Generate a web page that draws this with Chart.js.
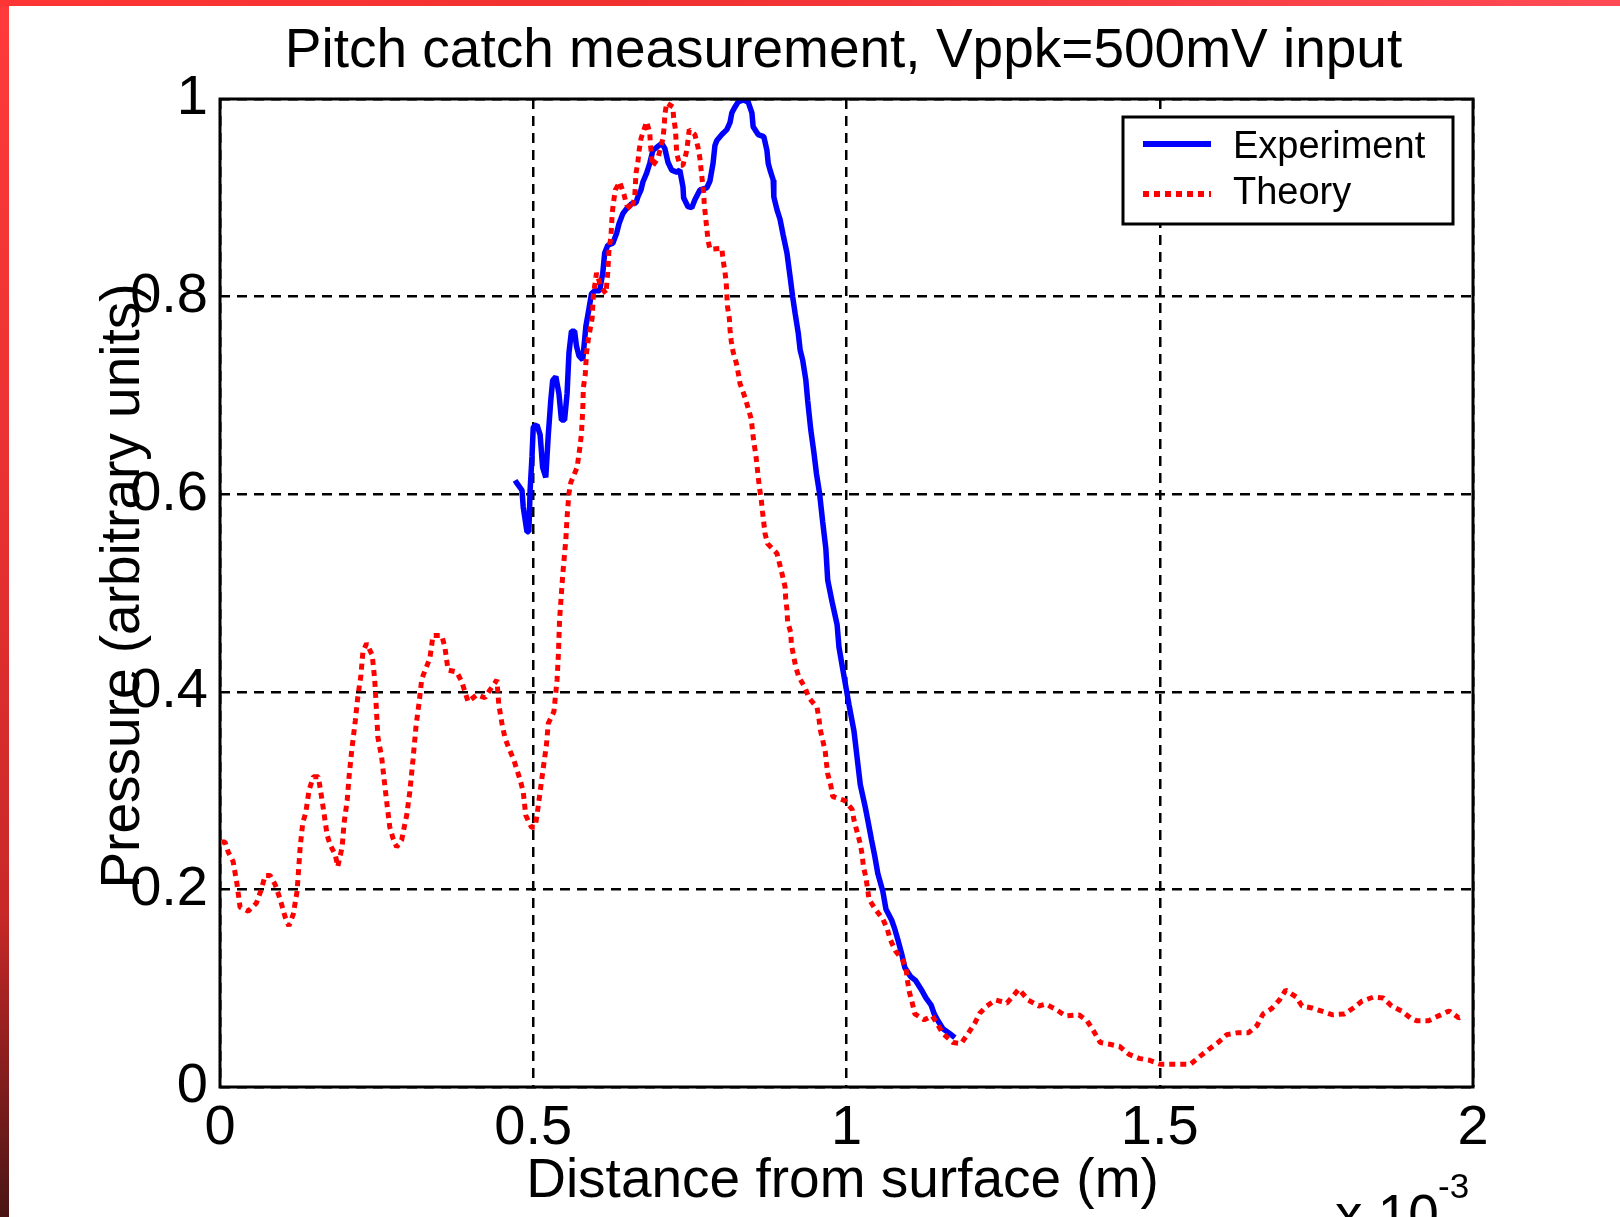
<!DOCTYPE html>
<html>
<head>
<meta charset="utf-8">
<script src="https://cdn.jsdelivr.net/npm/chart.js@4.4.1/dist/chart.umd.min.js"></script>
<style>
  body { margin: 0; background: #fff; }
  #wrap { position: relative; width: 1620px; height: 1217px; overflow: hidden; background: #fff; }
  #edgeLeft { position: absolute; left: 0; top: 0; width: 9px; height: 1217px;
    background: linear-gradient(#ff3a3a, #e63030 45%, #c82828 75%, #4a1515); }
  #edgeTop { position: absolute; left: 0; top: 0; width: 1620px; height: 6px;
    background: linear-gradient(90deg, #ff3535, #f03030 40%, #ff4a55); }
  canvas { position: absolute; left: 0; top: 0; }
</style>
</head>
<body>
<div id="wrap">
  <canvas id="myChart" width="1620" height="1217"></canvas>
  <div id="edgeLeft"></div>
  <div id="edgeTop"></div>
</div>
<script>
// x in units of 1e-3 m
const expX = [0.471, 0.473, 0.482, 0.484, 0.49, 0.493, 0.495, 0.498, 0.5, 0.506, 0.511, 0.515, 0.52, 0.524, 0.528,
  0.531, 0.536, 0.541, 0.545, 0.55, 0.554, 0.557, 0.561, 0.566, 0.569, 0.573, 0.579, 0.584, 0.589, 0.593, 0.598,
  0.606, 0.611, 0.614, 0.619, 0.627, 0.633, 0.637, 0.643, 0.649, 0.657, 0.664, 0.667, 0.672, 0.675, 0.681, 0.686,
  0.691, 0.697, 0.705, 0.71, 0.715, 0.721, 0.729, 0.734, 0.739, 0.74, 0.747, 0.753, 0.758, 0.766, 0.777, 0.782,
  0.787, 0.79, 0.793, 0.801, 0.809, 0.814, 0.817, 0.822, 0.827, 0.835, 0.843, 0.849, 0.851, 0.859, 0.868, 0.873,
  0.875, 0.878, 0.883, 0.884, 0.889, 0.894, 0.899, 0.905, 0.91, 0.914, 0.918, 0.923, 0.926, 0.93, 0.935, 0.938,
  0.943, 0.948, 0.952, 0.957, 0.962, 0.967, 0.97, 0.977, 0.985, 0.988, 0.994, 0.999, 1.004, 1.012, 1.017, 1.022,
  1.03, 1.034, 1.04, 1.045, 1.05, 1.058, 1.063, 1.072, 1.077, 1.082, 1.088, 1.093, 1.102, 1.11, 1.119, 1.127,
  1.135, 1.14, 1.146, 1.154, 1.165, 1.173];
const expY = [0.614, 0.612, 0.604, 0.587, 0.562, 0.562, 0.604, 0.638, 0.668, 0.67, 0.66, 0.627, 0.617, 0.66, 0.695,
  0.715, 0.719, 0.702, 0.675, 0.675, 0.702, 0.743, 0.765, 0.765, 0.75, 0.74, 0.736, 0.77, 0.788, 0.803, 0.806,
  0.806, 0.824, 0.844, 0.852, 0.854, 0.864, 0.874, 0.884, 0.889, 0.894, 0.895, 0.901, 0.908, 0.916, 0.925, 0.935,
  0.948, 0.951, 0.955, 0.95, 0.936, 0.928, 0.926, 0.928, 0.911, 0.9, 0.891, 0.89, 0.898, 0.908, 0.91, 0.917,
  0.935, 0.953, 0.958, 0.964, 0.969, 0.976, 0.986, 0.992, 0.997, 0.999, 0.997, 0.986, 0.972, 0.964, 0.962, 0.948,
  0.935, 0.928, 0.918, 0.901, 0.888, 0.878, 0.862, 0.844, 0.82, 0.8, 0.783, 0.763, 0.746, 0.736, 0.716, 0.695,
  0.665, 0.642, 0.621, 0.601, 0.572, 0.545, 0.513, 0.491, 0.468, 0.445, 0.423, 0.405, 0.387, 0.36, 0.333, 0.306,
  0.283, 0.27, 0.25, 0.234, 0.216, 0.198, 0.18, 0.169, 0.16, 0.149, 0.135, 0.121, 0.112, 0.108, 0.099, 0.09,
  0.083, 0.074, 0.067, 0.059, 0.054, 0.05];

const theoryX = [0.003, 0.008, 0.013, 0.021, 0.027, 0.032, 0.045, 0.058, 0.066, 0.072, 0.08, 0.088, 0.096, 0.104,
  0.11, 0.117, 0.123, 0.128, 0.132, 0.137, 0.142, 0.149, 0.157, 0.163, 0.166, 0.171, 0.176, 0.184, 0.188, 0.195,
  0.198, 0.203, 0.206, 0.21, 0.216, 0.22, 0.225, 0.228, 0.234, 0.243, 0.247, 0.25, 0.252, 0.258, 0.262, 0.266,
  0.271, 0.276, 0.282, 0.29, 0.294, 0.298, 0.303, 0.308, 0.313, 0.318, 0.322, 0.335, 0.34, 0.354, 0.359, 0.364,
  0.378, 0.386, 0.396, 0.41, 0.423, 0.431, 0.442, 0.445, 0.45, 0.455, 0.461, 0.469, 0.479, 0.484, 0.488, 0.497,
  0.503, 0.506, 0.511, 0.516, 0.521, 0.524, 0.533, 0.538, 0.54, 0.542, 0.547, 0.552, 0.554, 0.557, 0.56, 0.57,
  0.575, 0.577, 0.579, 0.58, 0.583, 0.585, 0.588, 0.594, 0.596, 0.601, 0.608, 0.616, 0.619, 0.621, 0.624, 0.626,
  0.628, 0.631, 0.638, 0.645, 0.649, 0.657, 0.662, 0.664, 0.667, 0.669, 0.672, 0.681, 0.686, 0.687, 0.689, 0.69,
  0.699, 0.707, 0.709, 0.71, 0.713, 0.723, 0.724, 0.727, 0.728, 0.729, 0.734, 0.739, 0.744, 0.746, 0.749, 0.758,
  0.763, 0.766, 0.768, 0.77, 0.772, 0.773, 0.775, 0.777, 0.779, 0.782, 0.801, 0.803, 0.806, 0.808, 0.809, 0.81,
  0.813, 0.814, 0.816, 0.819, 0.824, 0.828, 0.83, 0.838, 0.843, 0.848, 0.85, 0.852, 0.855, 0.857, 0.859, 0.861,
  0.864, 0.866, 0.868, 0.87, 0.874, 0.889, 0.893, 0.898, 0.902, 0.903, 0.905, 0.906, 0.911, 0.912, 0.916, 0.919,
  0.924, 0.934, 0.94, 0.953, 0.956, 0.958, 0.962, 0.966, 0.968, 0.97, 0.975, 0.978, 0.997, 1.009, 1.012, 1.017,
  1.022, 1.025, 1.027, 1.031, 1.036, 1.046, 1.058, 1.065, 1.07, 1.078, 1.09, 1.095, 1.097, 1.1, 1.105, 1.109,
  1.124, 1.137, 1.154, 1.17, 1.183, 1.194, 1.205, 1.213, 1.224, 1.238, 1.256, 1.267, 1.275, 1.29, 1.307, 1.318,
  1.333, 1.35, 1.371, 1.384, 1.395, 1.405, 1.422, 1.436, 1.451, 1.467, 1.484, 1.501, 1.515, 1.532, 1.549, 1.564,
  1.578, 1.593, 1.607, 1.625, 1.642, 1.655, 1.665, 1.678, 1.691, 1.701, 1.718, 1.727, 1.743, 1.762, 1.776, 1.795,
  1.809, 1.823, 1.841, 1.857, 1.87, 1.886, 1.9, 1.91, 1.929, 1.945, 1.962, 1.977, 1.985];
const theoryY = [0.248, 0.248, 0.238, 0.228, 0.206, 0.182, 0.178, 0.186, 0.2, 0.214, 0.214, 0.205, 0.19, 0.172,
  0.163, 0.175, 0.198, 0.243, 0.267, 0.278, 0.3, 0.314, 0.314, 0.29, 0.277, 0.255, 0.245, 0.235, 0.223, 0.243,
  0.267, 0.29, 0.314, 0.339, 0.371, 0.395, 0.417, 0.44, 0.449, 0.437, 0.412, 0.378, 0.354, 0.334, 0.311, 0.289,
  0.263, 0.252, 0.243, 0.25, 0.263, 0.275, 0.299, 0.331, 0.366, 0.39, 0.413, 0.434, 0.457, 0.457, 0.445, 0.422,
  0.42, 0.41, 0.39, 0.397, 0.394, 0.402, 0.412, 0.387, 0.368, 0.353, 0.343, 0.331, 0.311, 0.299, 0.275, 0.263,
  0.263, 0.275, 0.299, 0.323, 0.346, 0.368, 0.38, 0.412, 0.436, 0.473, 0.518, 0.554, 0.577, 0.601, 0.612, 0.627,
  0.65, 0.662, 0.685, 0.708, 0.721, 0.743, 0.757, 0.778, 0.802, 0.824, 0.81, 0.803, 0.825, 0.849, 0.86, 0.884,
  0.895, 0.908, 0.916, 0.903, 0.893, 0.888, 0.901, 0.925, 0.936, 0.948, 0.96, 0.977, 0.966, 0.954, 0.942, 0.932,
  0.94, 0.96, 0.972, 0.984, 0.996, 0.992, 0.981, 0.969, 0.957, 0.945, 0.933, 0.933, 0.945, 0.953, 0.969, 0.964,
  0.951, 0.94, 0.928, 0.916, 0.905, 0.893, 0.881, 0.869, 0.857, 0.848, 0.849, 0.837, 0.825, 0.814, 0.802, 0.79,
  0.778, 0.767, 0.755, 0.744, 0.733, 0.72, 0.712, 0.698, 0.687, 0.676, 0.664, 0.653, 0.641, 0.63, 0.618, 0.607,
  0.594, 0.582, 0.571, 0.56, 0.55, 0.54, 0.53, 0.517, 0.506, 0.494, 0.483, 0.471, 0.46, 0.448, 0.435, 0.425,
  0.415, 0.404, 0.394, 0.384, 0.373, 0.362, 0.351, 0.34, 0.328, 0.317, 0.305, 0.294, 0.29, 0.281, 0.27, 0.258,
  0.246, 0.235, 0.223, 0.212, 0.19, 0.18, 0.17, 0.16, 0.149, 0.138, 0.128, 0.12, 0.109, 0.097, 0.085, 0.074,
  0.068, 0.072, 0.054, 0.045, 0.044, 0.054, 0.065, 0.075, 0.082, 0.088, 0.085, 0.093, 0.099, 0.088, 0.082, 0.084,
  0.079, 0.072, 0.073, 0.067, 0.056, 0.045, 0.043, 0.041, 0.033, 0.029, 0.027, 0.023, 0.023, 0.023, 0.023, 0.031,
  0.038, 0.045, 0.053, 0.055, 0.055, 0.062, 0.074, 0.079, 0.088, 0.098, 0.091, 0.082, 0.08, 0.076, 0.073, 0.074,
  0.08, 0.087, 0.091, 0.09, 0.082, 0.077, 0.07, 0.067, 0.067, 0.072, 0.077, 0.07, 0.072];

const xTicks = [0, 0.5, 1, 1.5, 2];
const yTicks = [0, 0.2, 0.4, 0.6, 0.8, 1];

const titleText = "Pitch catch measurement, Vppk=500mV input";
const xTitle = "Distance from surface (m)";
const yTitle = "Pressure (arbitrary units)";

const FONT = "'Liberation Sans', Arial, sans-serif";

const toPoints = (xs, ys) => xs.map((x, i) => ({ x: x, y: ys[i] }));
const plainLabel = (v) => String(v);

// matlab style frame, titles and legend
const matlabBits = {
  id: "matlabBits",
  afterDatasetsDraw(chart) {
    const { ctx, chartArea: a } = chart;
    ctx.save();
    ctx.strokeStyle = "#000";
    ctx.lineWidth = 3;
    ctx.strokeRect(a.left, a.top, a.right - a.left, a.bottom - a.top);
    ctx.restore();
  },
  afterDraw(chart) {
    const { ctx, chartArea: a } = chart;
    const cx = (a.left + a.right) / 2;
    ctx.save();
    ctx.fillStyle = "#000";
    ctx.textBaseline = "alphabetic";

    ctx.font = "55px " + FONT;
    ctx.textAlign = "center";
    ctx.fillText(titleText, cx - 3, 67);
    ctx.fillText(xTitle, cx - 4, 1197);

    ctx.save();
    ctx.translate(139, 586);
    ctx.rotate(-Math.PI / 2);
    ctx.fillText(yTitle, 0, 0);
    ctx.restore();

    // exponent note, bottom cut off like the original
    ctx.textAlign = "left";
    ctx.fillText("x 10", 1335, 1233);
    ctx.font = "35px " + FONT;
    ctx.fillText("-3", 1438, 1198);

    // legend
    const box = { l: 1123, t: 117, r: 1453, b: 224 };
    ctx.fillStyle = "#fff";
    ctx.fillRect(box.l, box.t, box.r - box.l, box.b - box.t);
    ctx.strokeStyle = "#000";
    ctx.lineWidth = 3;
    ctx.strokeRect(box.l, box.t, box.r - box.l, box.b - box.t);

    const rows = [
      { ds: chart.data.datasets[1], y: 144, base: 158 },
      { ds: chart.data.datasets[0], y: 194, base: 204 }
    ];
    rows.forEach((row) => {
      ctx.beginPath();
      ctx.strokeStyle = row.ds.borderColor;
      ctx.lineWidth = 6;
      ctx.lineCap = "butt";
      ctx.setLineDash(row.ds.borderDash || []);
      ctx.moveTo(1143, row.y);
      ctx.lineTo(1211, row.y);
      ctx.stroke();
      ctx.setLineDash([]);
      ctx.fillStyle = "#000";
      ctx.font = "38px " + FONT;
      ctx.fillText(row.ds.label, 1233, row.base);
    });
    ctx.restore();
  }
};

const myChart = document.getElementById("myChart");

new Chart(myChart, {
  type: "line",
  data: {
    datasets: [
      {
        label: "Theory",
        data: toPoints(theoryX, theoryY),
        borderColor: "#ff0000",
        borderWidth: 5,
        borderDash: [6, 5],
        borderCapStyle: "butt",
        borderJoinStyle: "bevel",
        pointRadius: 0,
        tension: 0,
        order: 0
      },
      {
        label: "Experiment",
        data: toPoints(expX, expY),
        borderColor: "#0000ff",
        borderWidth: 5.5,
        borderJoinStyle: "bevel",
        pointRadius: 0,
        tension: 0,
        order: 1
      }
    ]
  },
  options: {
    responsive: false,
    devicePixelRatio: 1,
    animation: false,
    events: [],
    layout: { padding: { top: 99, right: 147, left: 0, bottom: 0 } },
    plugins: {
      legend: { display: false },
      title: { display: false },
      tooltip: { enabled: false }
    },
    scales: {
      x: {
        type: "linear",
        min: 0,
        max: 2,
        afterBuildTicks: (s) => { s.ticks = xTicks.map((v) => ({ value: v })); },
        afterFit: (s) => { s.height = 130; s.paddingLeft = 0; s.paddingRight = 0; },
        ticks: {
          font: { size: 56, family: FONT },
          color: "#000",
          padding: 8,
          maxRotation: 0,
          autoSkip: false,
          callback: plainLabel
        },
        grid: { color: "#000", lineWidth: 2.5, drawTicks: false },
        border: { display: false, dash: [10, 7] }
      },
      y: {
        type: "linear",
        min: 0,
        max: 1,
        afterBuildTicks: (s) => { s.ticks = yTicks.map((v) => ({ value: v })); },
        afterFit: (s) => { s.width = 220; s.paddingTop = 0; s.paddingBottom = 0; },
        ticks: {
          font: { size: 56, family: FONT },
          color: "#000",
          padding: 12,
          autoSkip: false,
          callback: plainLabel
        },
        grid: { color: "#000", lineWidth: 2.5, drawTicks: false },
        border: { display: false, dash: [10, 7] }
      }
    }
  },
  plugins: [matlabBits]
});
</script>
</body>
</html>
